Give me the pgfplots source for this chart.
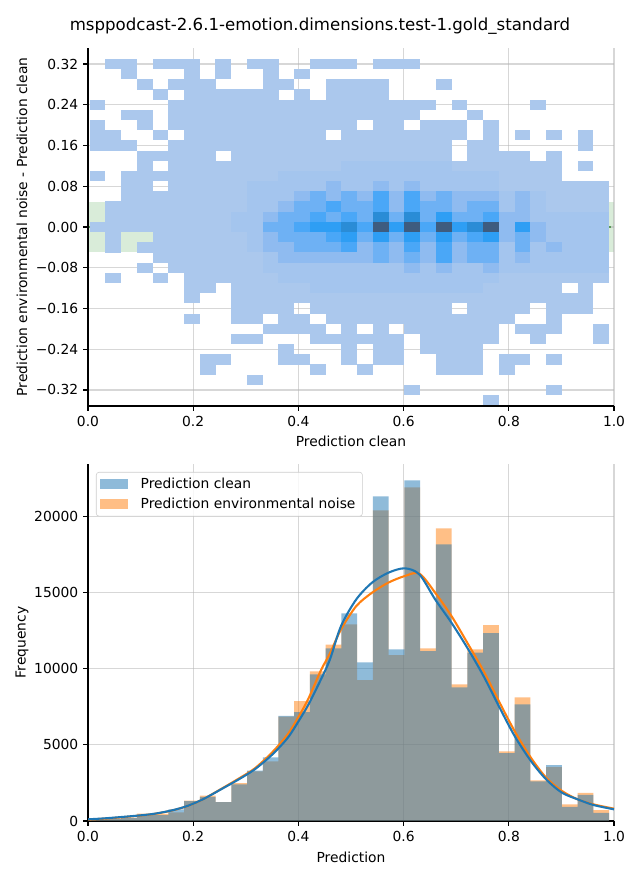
\documentclass[border=0pt]{standalone}
\usepackage{fontspec}
\setmainfont{DejaVu Sans}
\usepackage{pgfplots}
\usepackage{pgfplotstable}
\pgfplotsset{compat=1.18}

\definecolor{cblue}{RGB}{31,119,180}
\definecolor{corange}{RGB}{255,127,14}
\definecolor{cgreen}{RGB}{0,128,0}
\definecolor{gridc}{RGB}{176,176,176}
\definecolor{legc}{RGB}{204,204,204}

% one heatmap cell (bin width 0.02993 x 0.02 on a 378.72bp x 257.76bp axis)
\pgfdeclareplotmark{cell}{%
  \pgfpathrectanglecorners{\pgfpoint{-5.70bp}{-3.70bp}}{\pgfpoint{5.70bp}{3.70bp}}%
  \pgfusepathqfill}

% 2D histogram: rows = bin centre of (noise - clean), c0..c32 = bins of clean
% 0 = empty, 1..8 = colour level
\pgfplotstableread{
v c0 c1 c2 c3 c4 c5 c6 c7 c8 c9 c10 c11 c12 c13 c14 c15 c16 c17 c18 c19 c20 c21 c22 c23 c24 c25 c26 c27 c28 c29 c30 c31 c32
0.32  0 1 1 0 1 1 1 0 1 0  1 1 0 0 1 1 1 0 1 1  1 0 0 0 0 0 0 0 0 0  0 0 0
0.30  0 0 1 0 0 0 1 0 1 0  0 1 0 1 0 0 0 0 0 0  0 0 0 0 0 0 0 0 0 0  0 0 0
0.28  0 0 0 1 0 1 1 1 0 0  0 1 1 0 0 1 1 1 1 0  0 0 1 0 0 0 0 0 0 0  0 0 0
0.26  0 0 0 0 1 0 1 1 1 1  1 1 0 1 0 1 1 1 1 0  0 0 0 0 0 0 0 0 0 0  0 0 0
0.24  1 0 0 0 0 1 1 1 1 1  1 1 1 1 1 1 1 1 1 1  1 1 0 1 0 0 0 0 1 0  0 0 0
0.22  0 0 1 1 0 1 1 1 1 1  1 1 1 1 1 1 1 1 1 1  1 0 0 0 1 0 0 0 0 0  0 0 0
0.20  1 0 0 1 0 1 1 1 1 1  1 1 1 1 1 1 1 0 1 1  0 1 1 1 0 1 0 0 0 0  0 0 0
0.18  1 1 0 0 1 0 1 1 1 1  1 1 1 1 1 0 1 1 1 1  1 1 1 1 0 1 0 1 0 1  0 1 0
0.16  1 1 1 0 0 1 1 1 1 1  1 1 1 1 1 1 1 1 1 1  1 1 1 0 1 1 0 0 0 0  0 1 0
0.14  0 0 0 1 1 1 1 1 0 1  1 1 1 1 1 1 1 1 1 1  1 1 1 0 1 1 1 1 0 1  0 0 0
0.12  0 0 0 1 0 1 1 1 1 1  1 1 1 1 1 1 2 2 2 2  2 2 2 1 1 1 1 1 1 1  0 1 0
0.10  1 0 1 1 1 1 1 1 1 1  1 1 2 2 2 2 2 2 2 2  2 2 2 2 2 2 1 1 1 1  0 0 0
0.08  0 0 1 1 0 1 1 1 1 1  2 2 2 2 2 3 2 2 3 2  3 2 2 2 2 2 1 1 1 1  1 1 1
0.06  0 0 1 1 1 1 1 1 1 1  2 2 2 3 4 3 4 3 5 3  5 3 4 3 3 3 2 3 2 1  1 1 1
0.04  0 1 1 1 1 1 1 1 1 1  2 2 3 4 4 5 4 4 5 3  5 4 4 3 4 4 2 3 2 1  1 1 1
0.02  0 1 1 1 1 1 1 1 1 2  2 3 4 4 5 4 5 4 7 4  7 4 6 4 4 5 3 3 2 2  2 2 2
0.00  1 1 1 1 1 1 1 1 1 2  2 4 4 5 6 6 7 5 8 6  8 5 8 6 7 8 3 6 3 2  2 2 2
-0.02 0 1 0 0 1 1 1 1 1 1  2 3 4 4 4 5 6 4 6 4  6 4 6 4 5 6 3 4 3 2  2 2 2
-0.04 0 1 0 1 1 1 1 1 1 1  2 3 3 4 4 4 5 3 4 3  5 3 5 3 4 4 2 4 2 3  2 2 2
-0.06 0 0 0 0 1 1 1 1 1 1  1 2 3 3 3 3 3 3 4 3  4 3 5 3 4 4 2 3 2 2  2 2 2
-0.08 0 0 0 1 0 1 1 1 1 1  1 2 2 2 2 2 2 2 2 2  3 2 3 2 2 3 2 2 2 2  2 2 2
-0.10 0 1 0 0 1 0 1 1 1 1  1 1 2 2 2 2 2 2 2 2  2 2 2 2 2 2 1 1 1 1  1 1 1
-0.12 0 0 0 0 0 0 1 1 0 1  1 1 1 1 2 2 2 2 2 2  2 2 2 2 2 1 1 1 1 1  0 1 0
-0.14 0 0 0 0 0 0 1 0 0 1  1 1 1 1 1 1 1 1 1 1  1 1 1 1 1 1 1 1 1 1  1 1 0
-0.16 0 0 0 0 0 0 0 0 0 1  1 1 1 0 1 1 1 1 1 1  1 1 1 0 1 1 1 1 0 1  1 1 0
-0.18 0 0 0 0 0 0 1 0 0 1  1 0 1 1 0 1 1 1 1 1  1 1 1 1 1 1 1 0 0 1  0 0 0
-0.20 0 0 0 0 0 0 0 0 0 0  0 1 1 1 1 0 1 0 1 0  1 1 1 1 1 1 0 1 1 1  0 0 1
-0.22 0 0 0 0 0 0 0 0 0 1  1 0 0 0 1 1 1 1 1 1  0 1 1 1 1 1 0 0 1 0  0 0 1
-0.24 0 0 0 0 0 0 0 0 0 0  0 0 1 0 0 0 1 0 1 1  0 1 1 1 1 0 0 0 0 0  0 0 0
-0.26 0 0 0 0 0 0 0 1 1 0  0 0 1 1 0 0 1 0 1 1  0 0 1 1 1 0 1 1 0 1  0 0 0
-0.28 0 0 0 0 0 0 0 1 0 0  0 0 0 0 1 0 0 1 0 0  0 0 1 1 1 0 1 0 0 0  0 0 0
-0.30 0 0 0 0 0 0 0 0 0 0  1 0 0 0 0 0 0 0 0 0  0 0 0 0 0 0 0 0 0 0  0 0 0
-0.32 0 0 0 0 0 0 0 0 0 0  0 0 0 0 0 0 0 0 0 0  1 0 0 0 0 0 0 0 0 1  0 0 0
-0.34 0 0 0 0 0 0 0 0 0 0  0 0 0 0 0 0 0 0 0 0  0 0 0 0 0 1 0 0 0 0  0 0 0
}\heat

% histogram: left bin edges, counts (last row closes the final bin)
\pgfplotstableread{
x clean noise
0.00300 90 90
0.03293 150 150
0.06286 200 200
0.09279 420 480
0.12272 380 470
0.15265 765 570
0.18258 1310 1330
0.21251 1575 1660
0.24244 1245 1245
0.27237 2400 2490
0.30230 3300 3250
0.33223 4180 3910
0.36216 6890 6850
0.39209 7150 7870
0.42202 9620 9820
0.45195 11330 11570
0.48188 13625 12900
0.51181 10410 9250
0.54174 21300 20380
0.57167 11260 10890
0.60160 22350 21890
0.63153 11150 11330
0.66146 18150 19200
0.69139 8770 8970
0.72132 11040 11260
0.75125 12330 12860
0.78118 4460 4570
0.81111 7650 8110
0.84104 2600 2670
0.87097 3670 3540
0.90090 920 1090
0.93083 1710 1840
0.96076 525 720
0.99069 525 720
}\hist

% density curves, scaled to counts
\pgfplotstableread{
x clean noise
0.000 110 90
0.030 170 150
0.063 260 240
0.100 370 360
0.127 480 470
0.160 700 690
0.190 1000 990
0.220 1450 1450
0.253 2080 2100
0.285 2700 2750
0.317 3390 3450
0.350 4350 4500
0.380 5470 5700
0.403 6700 7000
0.420 7700 8100
0.443 9300 9900
0.460 10600 11000
0.481 12790 12575
0.510 14540 14100
0.540 15640 14980
0.571 16290 15640
0.602 16580 16070
0.630 16180 16230
0.660 14540 14980
0.691 13010 13450
0.721 11370 11700
0.752 9510 9840
0.781 7540 7870
0.811 5580 5900
0.842 3940 4155
0.871 2730 2840
0.901 1860 1970
0.931 1420 1420
0.961 1050 1090
1.000 765 810
}\kde

\pgfplotsset{
  panel/.style={
    scale only axis, width=378.72bp,
    xmin=0, xmax=1,
    axis x line*=bottom, axis y line*=left,
    axis line style={-, line width=0.8bp, black},
    tick align=outside, major tick length=3.5bp,
    tick style={line width=0.8bp, black},
    grid=major, grid style={line width=0.8bp, gridc, opacity=0.5},
    xtick={0,0.2,0.4,0.6,0.8,1.0},
    xticklabels={0.0,0.2,0.4,0.6,0.8,1.0},
    ticklabel style={font=\fontsize{10}{12}\selectfont},
    label style={font=\fontsize{10}{12}\selectfont},
  },
}

\begin{document}
\begin{tikzpicture}
\useasboundingbox (0,0) rectangle (460.8bp,633.6bp);
\node[font=\fontsize{12}{14}\selectfont] at (230.4bp,614.9bp)
  {msppodcast-2.6.1-emotion.dimensions.test-1.gold\_standard};

% top: 2D histogram of the difference
\begin{axis}[panel,
  at={(63.36bp,341.28bp)}, anchor=south west,
  height=257.76bp,
  ymin=-0.3515, ymax=0.3515,
  axis on top,
  ytick={-0.32,-0.24,-0.16,-0.08,0,0.08,0.16,0.24,0.32},
  yticklabels={−0.32,−0.24,−0.16,−0.08,0.00,0.08,0.16,0.24,0.32},
  xlabel={Prediction clean},
  ylabel={Prediction environmental noise - Prediction clean},
  xlabel style={at={(axis description cs:0.5,-0.098)}, anchor=center},
  ylabel style={at={(axis description cs:-0.1255,0.5)}, anchor=center},
  colormap={heat}{rgb255=(171,200,237) rgb255=(164,197,238) rgb255=(143,187,240) rgb255=(110,177,244) rgb255=(74,167,247) rgb255=(46,158,244) rgb255=(42,140,214) rgb255=(62,92,127)},
  point meta min=1, point meta max=8,
]
\addplot[draw=none, fill=cgreen, fill opacity=0.15] coordinates {(0,-0.05) (1,-0.05) (1,0.05) (0,0.05)} -- cycle;
\pgfplotsinvokeforeach{0,...,32}{
  \addplot[scatter, only marks, mark=cell,
    scatter/use mapped color={draw=none, fill=mapped color},
    point meta=explicit,
    restrict expr to domain={\thisrow{c#1}}{0.5:8.5}]
    table[x expr={0.01797+0.02993*#1}, y=v, meta=c#1] {\heat};
}
\addplot[cgreen, line width=1.5bp, dash pattern=on 5.5bp off 2.4bp] coordinates {(0,0) (1,0)};
\end{axis}

% bottom: histograms with density curves
\begin{axis}[panel,
  at={(63.36bp,42.48bp)}, anchor=south west,
  height=257.04bp,
  ymin=0, ymax=23425,
  scaled y ticks=false,
  ytick={0,5000,10000,15000,20000},
  yticklabels={0,5000,10000,15000,20000},
  xlabel={Prediction},
  ylabel={Frequency},
  xlabel style={at={(axis description cs:0.5,-0.101)}, anchor=center},
  ylabel style={at={(axis description cs:-0.1255,0.5)}, anchor=center},
  reverse legend,
  legend cell align=left,
  legend style={at={(0.0152,0.9776)}, anchor=north west,
    draw=legc, rounded corners=2bp, fill=white, fill opacity=0.8, text opacity=1,
    font=\fontsize{10}{12}\selectfont, inner xsep=3bp, inner ysep=2bp,
    row sep=1.5bp},
]
\addplot[ybar interval, fill=corange, fill opacity=0.5, draw=none,
  legend image code/.code={\fill[corange, fill opacity=0.5, sharp corners] (0bp,-3.6bp) rectangle (19.5bp,3.6bp); \path (27bp,0bp);}]
  table[x=x, y=noise] {\hist};
\addlegendentry{Prediction environmental noise}
\addplot[ybar interval, fill=cblue, fill opacity=0.5, draw=none,
  legend image code/.code={\fill[cblue, fill opacity=0.5, sharp corners] (0bp,-3.6bp) rectangle (19.5bp,3.6bp); \path (27bp,0bp);}]
  table[x=x, y=clean] {\hist};
\addlegendentry{Prediction clean}
\addplot[corange, line width=1.5bp, smooth, forget plot] table[x=x, y=noise] {\kde};
\addplot[cblue, line width=1.5bp, smooth, forget plot] table[x=x, y=clean] {\kde};
\end{axis}
\end{tikzpicture}
\end{document}
